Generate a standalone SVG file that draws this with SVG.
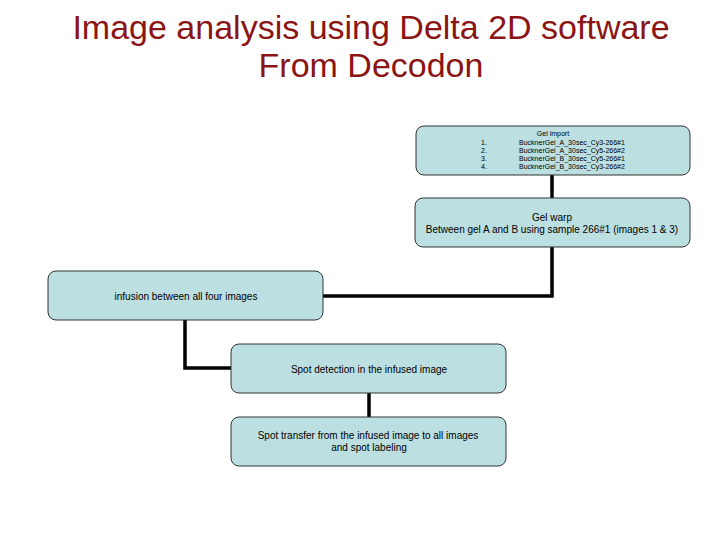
<svg xmlns="http://www.w3.org/2000/svg" width="720" height="540" viewBox="0 0 720 540">
<style>
.title{font-family:"Liberation Sans",Arial,sans-serif;font-size:34px;fill:#8B1414;text-anchor:middle}
.box{fill:#BCDFE2;stroke:#333;stroke-width:1}
.t{font-family:"Liberation Sans",Arial,sans-serif;font-size:10px;fill:#000;text-anchor:middle}
.s{font-family:"Liberation Sans",Arial,sans-serif;font-size:7px;fill:#000}
.c{fill:none;stroke:#000;stroke-width:3.5}
</style>
<rect width="720" height="540" fill="#fff"/>
<text class="title" x="371" y="39">Image analysis using Delta 2D software</text>
<text class="title" x="371" y="77">From Decodon</text>
<g id="connectors">
<path class="c" d="M552,175 V198"/>
<path class="c" d="M552,247 V296 H323"/>
<path class="c" d="M185,320 V368 H231"/>
<path class="c" d="M369,393 V417"/>
</g>
<g id="gel-import">
<rect class="box" x="416" y="126" width="274" height="49" rx="8"/>
<text class="s" x="553" y="136" text-anchor="middle">Gel import</text>
<text class="s" x="481" y="145">1.</text>
<text class="s" x="481" y="153">2.</text>
<text class="s" x="481" y="161">3.</text>
<text class="s" x="481" y="169">4.</text>
<text class="s" x="572" y="145" text-anchor="middle">BucknerGel_A_30sec_Cy3-266#1</text>
<text class="s" x="572" y="153" text-anchor="middle">BucknerGel_A_30sec_Cy5-266#2</text>
<text class="s" x="572" y="161" text-anchor="middle">BucknerGel_B_30sec_Cy5-266#1</text>
<text class="s" x="572" y="169" text-anchor="middle">BucknerGel_B_30sec_Cy3-266#2</text>
</g>
<g id="gel-warp">
<rect class="box" x="415" y="198" width="275" height="49" rx="8"/>
<text class="t" x="552" y="221">Gel warp</text>
<text class="t" x="552" y="233">Between gel A and B using sample 266#1 (images 1 &amp; 3)</text>
</g>
<g id="infusion">
<rect class="box" x="48" y="271" width="275" height="49" rx="8"/>
<text class="t" x="186" y="300">infusion  between all four images</text>
</g>
<g id="spot-detection">
<rect class="box" x="231" y="344" width="275" height="49" rx="8"/>
<text class="t" x="369" y="373">Spot detection in the infused image</text>
</g>
<g id="spot-transfer">
<rect class="box" x="231" y="417" width="275" height="49" rx="8"/>
<text class="t" x="368" y="439">Spot transfer from the infused image to all images</text>
<text class="t" x="369" y="451">and spot labeling</text>
</g>
</svg>
